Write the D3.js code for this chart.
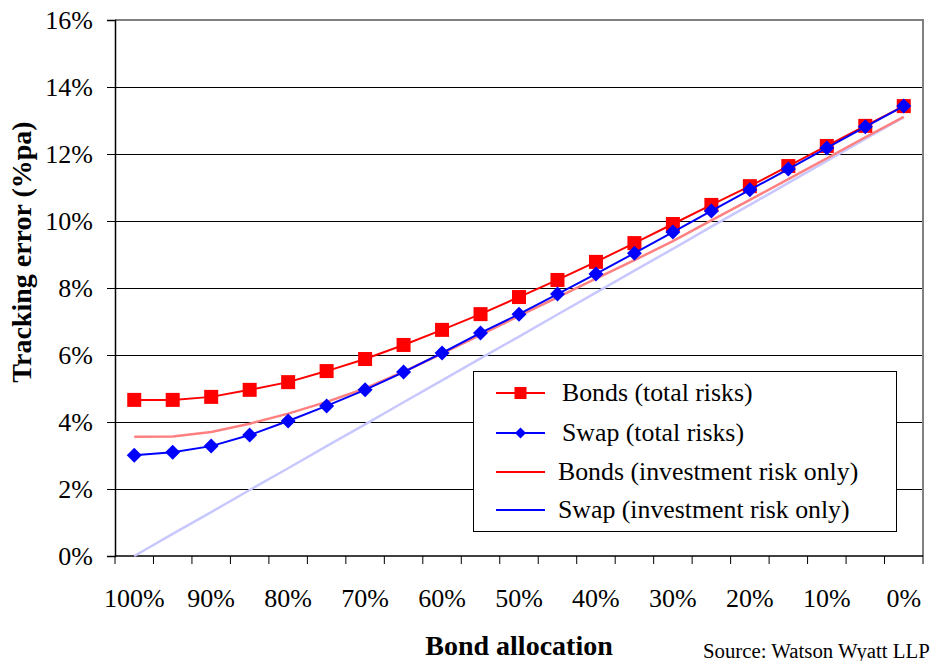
<!DOCTYPE html>
<html><head><meta charset="utf-8">
<script src="https://cdn.jsdelivr.net/npm/d3@7/dist/d3.min.js"></script>
<style>body{margin:0;background:#fff}svg{display:block}svg text{font-family:'Liberation Serif','Times New Roman',Times,'DejaVu Serif',serif !important}</style>
</head><body><svg id="c" width="934" height="661"></svg>
<script>
const categories = ["100%","95%","90%","85%","80%","75%","70%","65%","60%","55%","50%","45%","40%","35%","30%","25%","20%","15%","10%","5%","0%"];
const tickLabels = ["100%","90%","80%","70%","60%","50%","40%","30%","20%","10%","0%"];
const yTicks = [0,2,4,6,8,10,12,14,16];
const bondsTotal = [4.66,4.66,4.75,4.96,5.19,5.52,5.88,6.30,6.75,7.22,7.73,8.24,8.78,9.34,9.91,10.48,11.04,11.64,12.24,12.84,13.43];
const swapTotal  = [3.01,3.10,3.28,3.61,4.03,4.48,4.96,5.49,6.06,6.66,7.22,7.82,8.42,9.04,9.67,10.30,10.93,11.55,12.18,12.81,13.43];
const bondsInv   = [3.56,3.57,3.70,3.95,4.25,4.60,5.00,5.50,6.04,6.60,7.17,7.72,8.28,8.83,9.40,10.02,10.63,11.25,11.87,12.50,13.11];
const swapInv    = [0.00,0.66,1.31,1.97,2.62,3.28,3.93,4.59,5.24,5.90,6.55,7.21,7.86,8.52,9.17,9.83,10.48,11.14,11.79,12.45,13.10];
const legendLabels = ["Bonds (total risks)","Swap (total risks)","Bonds (investment risk only)","Swap (investment risk only)"];

const FONT = "'Liberation Serif','Times New Roman',Times,'DejaVu Serif',serif";
const svg = d3.select("#c");
const L=115,R=923,T=20,B=556;
const x = d3.scaleBand().domain(categories).range([L,R]).padding(0);
const y = d3.scaleLinear().domain([0,16]).range([B,T]);
const cx = c => x(c)+x.bandwidth()/2;

// gridlines
svg.append("g").selectAll("line").data(yTicks.filter(v=>v>0&&v<16)).join("line")
  .attr("x1",L).attr("x2",R).attr("y1",d=>y(d)).attr("y2",d=>y(d))
  .attr("stroke","#000").attr("stroke-width",1).attr("shape-rendering","crispEdges");
// plot border top/right
svg.append("path").attr("d",`M${L},${y(16)}H${R}V${B}`).attr("fill","none")
  .attr("stroke","#808080").attr("stroke-width",1.5).attr("shape-rendering","crispEdges");

// y axis
const yAxis = d3.axisLeft(y).tickValues(yTicks).tickFormat(d=>d+"%").tickSize(8).tickPadding(14);
const gy = svg.append("g").attr("transform",`translate(${L},0)`).call(yAxis).attr("font-family",FONT);
gy.select(".domain").attr("stroke","#000").attr("stroke-width",1.5);
gy.selectAll(".tick line").attr("stroke","#000");
gy.selectAll("text").attr("font-size",26).attr("fill","#000").attr("font-family",FONT);

// x axis line + ticks at band boundaries
svg.append("line").attr("x1",L).attr("x2",R).attr("y1",B).attr("y2",B).attr("stroke","#000").attr("stroke-width",1.5);
const bounds = categories.map(c=>x(c)).concat([x.range()[1]]);
svg.append("g").selectAll("line").data(bounds).join("line")
  .attr("x1",d=>d).attr("x2",d=>d).attr("y1",B).attr("y2",B+8).attr("stroke","#000").attr("stroke-width",1);
svg.append("g").selectAll("text").data(tickLabels).join("text")
  .attr("x",d=>cx(d)).attr("y",607).attr("text-anchor","middle").attr("font-size",26).attr("font-family",FONT).text(d=>d);

// lines
const line = arr => d3.line().x((d,i)=>cx(categories[i])).y(d=>y(d))(arr);
svg.append("path").attr("d",line(swapInv)).attr("fill","none").attr("stroke","#C8C8FF").attr("stroke-width",2.5);
svg.append("path").attr("d",line(bondsInv)).attr("fill","none").attr("stroke","#FF8080").attr("stroke-width",2.5);
svg.append("path").attr("d",line(bondsTotal)).attr("fill","none").attr("stroke","#FF0000").attr("stroke-width",2);
svg.append("g").selectAll("rect").data(bondsTotal).join("rect")
  .attr("x",(d,i)=>cx(categories[i])-7).attr("y",d=>y(d)-7).attr("width",14).attr("height",14).attr("fill","#FF0000");
svg.append("path").attr("d",line(swapTotal)).attr("fill","none").attr("stroke","#0000FF").attr("stroke-width",2);
const diamond = (px,py,r)=>`M${px},${py-r}L${px+r},${py}L${px},${py+r}L${px-r},${py}Z`;
svg.append("g").selectAll("path").data(swapTotal).join("path")
  .attr("d",(d,i)=>diamond(cx(categories[i]),y(d),7.5)).attr("fill","#0000FF");

// legend
const lg = svg.append("g");
lg.append("rect").attr("x",473.5).attr("y",371.5).attr("width",423).attr("height",160)
  .attr("fill","#fff").attr("stroke","#000").attr("stroke-width",1);
const rowsY=[393,433,472,510];
const textX=[562,562,558,558];
const colors=["#FF0000","#0000FF","#FF0000","#0000FF"];
legendLabels.forEach((t,i)=>{
  lg.append("line").attr("x1",496).attr("x2",545).attr("y1",rowsY[i]).attr("y2",rowsY[i]).attr("stroke",colors[i]).attr("stroke-width",2);
  lg.append("text").attr("x",textX[i]).attr("y",rowsY[i]+8).attr("font-size",25.8).attr("font-family",FONT).text(t);
});
lg.append("rect").attr("x",514.5).attr("y",rowsY[0]-6).attr("width",12).attr("height",12).attr("fill","#FF0000");
lg.append("path").attr("d",diamond(520.5,rowsY[1],5.5)).attr("fill","#0000FF");

// titles
svg.append("text").attr("x",519).attr("y",655).attr("text-anchor","middle").attr("font-size",28).attr("font-weight","bold").attr("font-family",FONT).text("Bond allocation");
svg.append("text").attr("transform","translate(31,252) rotate(-90)").attr("text-anchor","middle").attr("font-size",28).attr("font-weight","bold").attr("font-family",FONT).text("Tracking error (%pa)");
svg.append("text").attr("x",703).attr("y",658).attr("font-size",20.8).attr("font-family",FONT).text("Source: Watson Wyatt LLP");
</script></body></html>
